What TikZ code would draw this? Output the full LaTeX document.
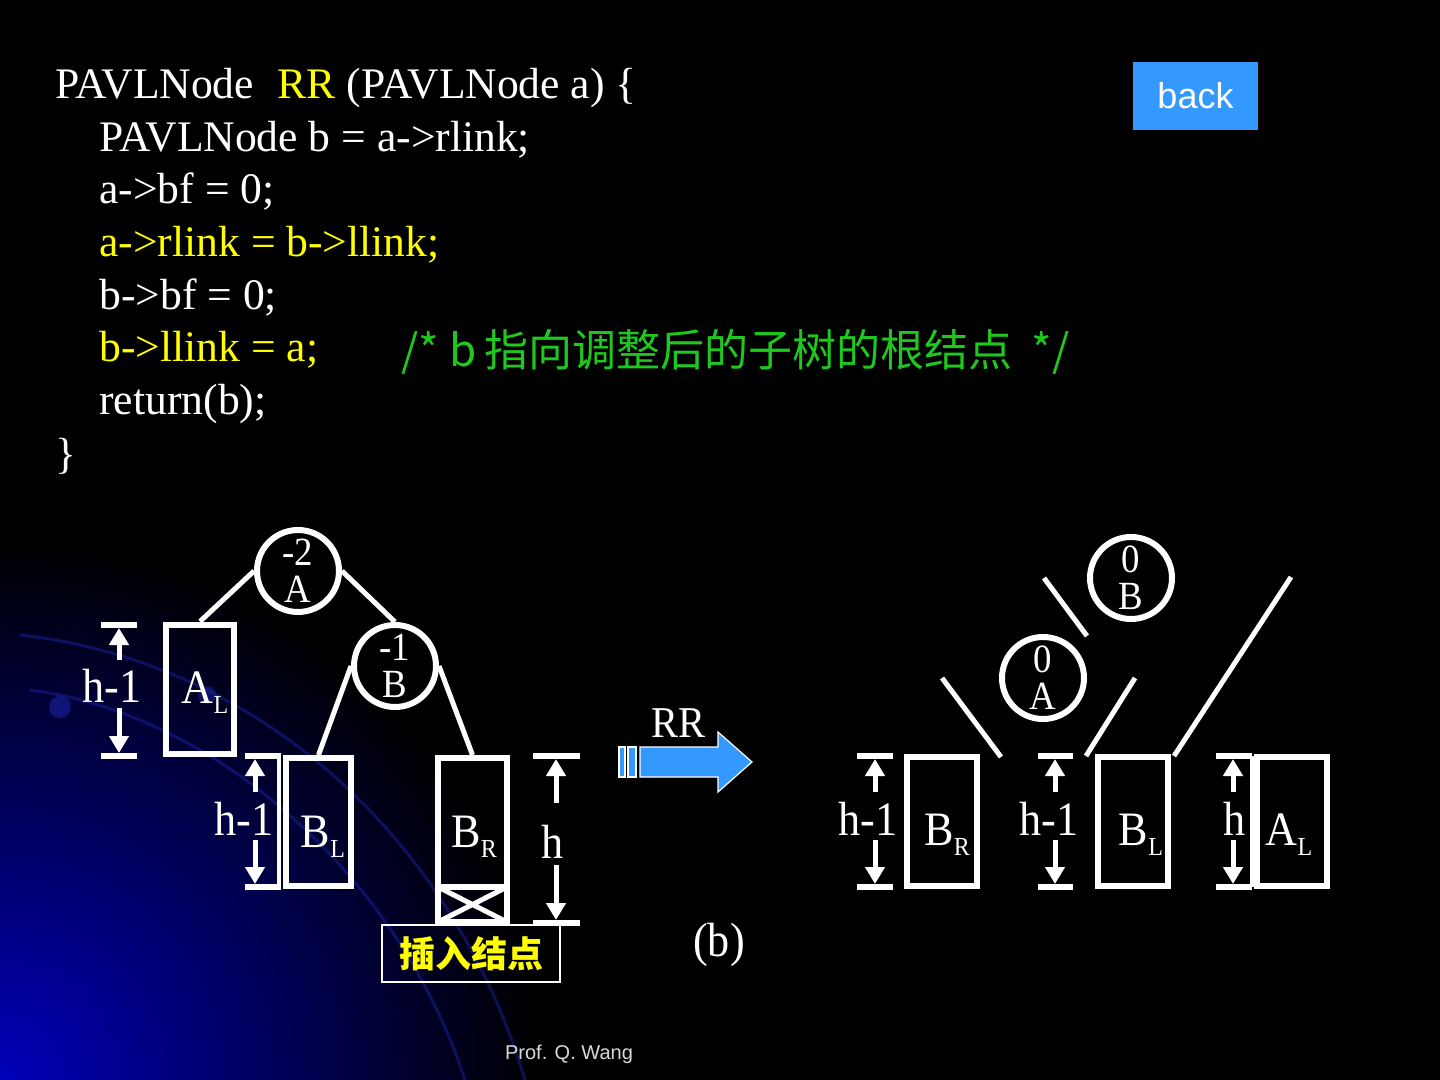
\documentclass[tikz,border=0pt]{standalone}
\usepackage{fontspec}
\setmainfont{Liberation Serif}
\newfontfamily\cjk{Noto Sans CJK SC}
\newfontfamily\arial{Liberation Sans}
\newfontfamily\lab{Liberation Serif}[FakeStretch=0.92]
\usetikzlibrary{arrows.meta}
\definecolor{codeyellow}{RGB}{255,255,0}
\definecolor{codegreen}{RGB}{30,200,30}
\definecolor{btnblue}{RGB}{51,153,255}
\definecolor{glow}{RGB}{0,0,185}
\definecolor{arcblue}{RGB}{25,35,160}
\newcommand\lsub[1]{\raisebox{-5pt}{\fontsize{13}{13}\selectfont #1}}

\tikzset{
  code/.style={anchor=base west, inner sep=0pt, text=white, font=\fontsize{21.8}{25}\selectfont},
  ring/.style={circle, draw=white, line width=3pt, minimum size=41pt, inner sep=0pt,
    align=center, text=white, font=\lab\fontsize{20}{18.5}\selectfont},
  subtree/.style={draw=white, line width=3pt, inner sep=0pt, minimum width=34pt, minimum height=64.5pt},
  lbl/.style={anchor=base, inner sep=0pt, text=white, font=\lab\fontsize{24}{24}\selectfont},
  edge/.style={white, line width=2.5pt},
  tick/.style={white, line width=3pt},
  dimarrow/.style={white, line width=2.5pt, -{Triangle[width=9.5pt,length=8.5pt]}},
}

\begin{document}
\begin{tikzpicture}[x=0.5pt, y=-0.5pt]
  \useasboundingbox (0,0) rectangle (1440,1080);
  % background
  \begin{scope}
    \clip (0,0) rectangle (1440,1080);
    \fill[black] (0,0) rectangle (1440,1080);
    \shade[inner color=glow, outer color=black] (0,1080) circle (540);
    \draw[arcblue, line width=1.5pt, opacity=0.5] (20,635) .. controls (250,660) and (450,830) .. (525,1080);
    \draw[arcblue, line width=1.5pt, opacity=0.5] (30,690) .. controls (220,715) and (400,880) .. (465,1080);
    \fill[arcblue, opacity=0.6] (60,707) circle (11);
    \fill[arcblue, opacity=0.5] (207,695) circle (9);
  \end{scope}

  % code
  \node[code] (l1) at (55,99) {PAVLNode\ \ \hspace{1pt}\textcolor{codeyellow}{RR} (PAVLNode a) \{};
  \node[code] (l2) at (99,152) {PAVLNode b = a->rlink;};
  \node[code] (l3) at (99,204) {a->bf = 0;};
  \node[code, text=codeyellow] (l4) at (99,257) {a->rlink = b->llink;};
  \node[code] (l5) at (99,310) {b->bf = 0;};
  \node[code, text=codeyellow] (l6) at (99,362) {b->llink = a;};
  \node[code, text=codegreen, font=\cjk\fontsize{22}{26}\selectfont] (cmt) at (401,367)
    {/* b\hspace{-1pt} 指向调整后的子树的根结点\ \ */};
  \node[code] (l7) at (99,415) {return(b);};
  \node[code] (l8) at (55,468) {\}};

  \node[fill=btnblue, minimum width=62.5pt, minimum height=34pt, inner sep=0pt, text=white,
    font=\arial\fontsize{18}{18}\selectfont] (back) at (1195.5,96) {back};

  % before: RR imbalance
  \node[ring] (A) at (298,571) {-2\\A};
  \node[ring] (B) at (395,666) {-1\\B};
  \node[subtree] (AL) at (200,689) {};
  \node[subtree, minimum width=32.5pt, minimum height=64pt] (BL) at (318.5,822) {};
  \node[subtree, minimum width=34.5pt, minimum height=82pt] (BR) at (472.5,840) {};
  \draw[edge] (A.west) -- (AL.north);
  \draw[edge] (A.east) -- (B.north);
  \draw[edge] (B.west) -- (BL.north);
  \draw[edge] (B.east) -- (BR.north);
  \draw[tick] (438,887) -- (507,887);
  \draw[white, line width=2.5pt] (438,887) -- (507,922) (438,922) -- (507,887);
  \node[draw=white, line width=1pt, minimum width=89pt, minimum height=28.5pt, inner sep=0pt,
    text=codeyellow, font=\cjk\bfseries\fontsize{18}{18}\selectfont] (ins) at (471,953.5) {插入结点};

  % after
  \node[ring] (B2) at (1131,578) {0\\B};
  \node[ring] (A2) at (1043,678) {0\\A};
  \node[subtree, minimum width=35pt] (BR2) at (942,821.5) {};
  \node[subtree, minimum width=35pt] (BL2) at (1133,821.5) {};
  \node[subtree, minimum width=35pt] (AL2) at (1292,821.5) {};
  \draw[edge] (1044,578) -- (1087,636) (942,678) -- (1001,757)
    (1135,678) -- (1086,756) (1291,577) -- (1174,756);

  % height marks
  \foreach \xa/\xl/\xr/\t/\b/\u/\d in {119/101/137/625/756/660/708, 255/245/281/756/887/792/840,
      556/533/580/756/923/803/865, 875/857/893/756/887/792/840,
      1055/1038/1073/756/887/792/840, 1233/1216/1252/756/887/792/840} {
    \draw[tick] (\xl,\t) -- (\xr,\t) (\xl,\b) -- (\xr,\b);
    \draw[dimarrow] (\xa,\u) -- (\xa,\t+3);
    \draw[dimarrow] (\xa,\d) -- (\xa,\b-3);
  }
  \draw[white, line width=2pt] (279,756) -- (279,887) (1252,756) -- (1252,887);

  \node[lbl] (h1) at (112,702) {h-1};
  \node[lbl] (tAL) at (205,703) {A\lsub{L}};
  \node[lbl] (h2) at (244,835) {h-1};
  \node[lbl] (tBL) at (323,847) {B\lsub{L}};
  \node[lbl] (tBR) at (474,847) {B\lsub{R}};
  \node[lbl] (h3) at (553,858) {h};
  \node[lbl] (h4) at (868,835) {h-1};
  \node[lbl] (tBR2) at (947,845) {B\lsub{R}};
  \node[lbl] (h5) at (1049,835) {h-1};
  \node[lbl] (tBL2) at (1141,845) {B\lsub{L}};
  \node[lbl] (h6) at (1235,835) {h};
  \node[lbl] (tAL2) at (1289,845) {A\lsub{L}};

  % rotation arrow
  \filldraw[fill=btnblue, draw=white, line width=0.6pt] (640,747) -- (718,747) -- (718,732)
    -- (752,762) -- (718,792) -- (718,777) -- (640,777) -- cycle;
  \filldraw[fill=btnblue, draw=white, line width=0.6pt] (619,747) rectangle (625,777)
    (628,747) rectangle (636,777);
  \node[lbl, font=\lab\fontsize{22}{22}\selectfont] (rr) at (678,737) {RR};
  \node[lbl] (fig) at (719,956) {(b)};

  \node[text=white!85!black, font=\arial\fontsize{10}{10}\selectfont] (prof) at (569,1054) {Prof. Q. Wang};
\end{tikzpicture}
\end{document}
